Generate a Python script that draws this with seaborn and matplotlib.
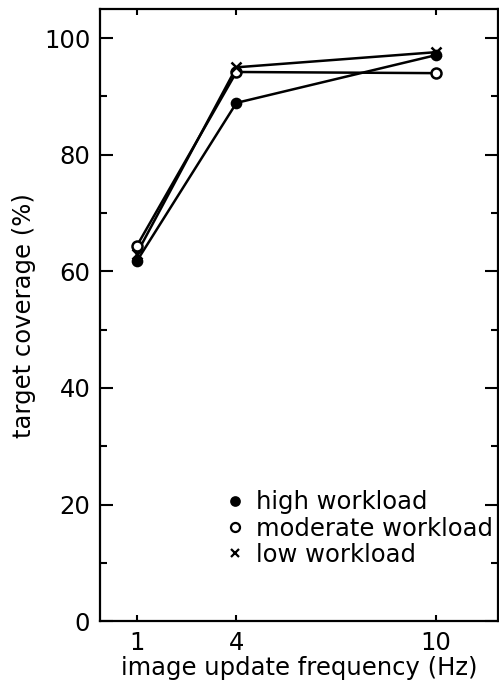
import pandas as pd
import seaborn as sns
import matplotlib
matplotlib.use("Agg")
import matplotlib.pyplot as plt
from matplotlib.lines import Line2D
from matplotlib.ticker import MultipleLocator

# --- data ---
freq = [1, 4, 10]
high = [61.7, 88.9, 97.1]
moderate = [64.3, 94.2, 94.0]
low = [63.0, 95.0, 97.6]
labels = ["high workload", "moderate workload", "low workload"]

df = pd.DataFrame({
    "freq": freq * 3,
    "coverage": high + moderate + low,
    "workload": [labels[0]] * 3 + [labels[1]] * 3 + [labels[2]] * 3,
})

sns.set_style("ticks")
plt.rcParams["font.family"] = ["DejaVu Sans"]
plt.rcParams["font.size"] = 17.5
plt.rcParams["text.color"] = "black"
plt.rcParams["axes.labelcolor"] = "black"
plt.rcParams["xtick.color"] = "black"
plt.rcParams["ytick.color"] = "black"

fig = plt.figure(figsize=(4.99, 6.94), dpi=100)
ax = fig.add_axes([0.2004, 0.105, 0.797, 0.882])

black = {k: "black" for k in labels}
sns.lineplot(data=df, x="freq", y="coverage", hue="workload", palette=black,
             ax=ax, legend=False, linewidth=1.8, marker=None)

marker_style = {
    labels[0]: dict(marker="o", markersize=7.2, markerfacecolor="black",
                    markeredgecolor="black", markeredgewidth=1.2),
    labels[1]: dict(marker="o", markersize=7.2, markerfacecolor="white",
                    markeredgecolor="black", markeredgewidth=1.8),
    labels[2]: dict(marker="x", markersize=6.5, markeredgecolor="black",
                    markeredgewidth=1.8),
}
for lab in labels:
    sub = df[df["workload"] == lab]
    ax.plot(sub["freq"], sub["coverage"], linestyle="none", zorder=3,
            **marker_style[lab])

ax.set_xlim(-0.1, 11.85)
ax.set_ylim(0, 105)
ax.set_xticks(freq)
ax.set_xticklabels([str(f) for f in freq])
ax.yaxis.set_major_locator(MultipleLocator(20))
ax.yaxis.set_minor_locator(MultipleLocator(10))

ax.tick_params(axis="y", which="major", direction="in", length=9.5, width=1.5,
               left=True, right=True, pad=7, labelsize=17.5)
ax.tick_params(axis="y", which="minor", direction="in", length=5, width=1.5,
               left=True, right=True)
ax.tick_params(axis="x", which="major", direction="in", length=4.5, width=1.5,
               top=True, bottom=True, pad=7, labelsize=17.5)

for s in ax.spines.values():
    s.set_linewidth(1.6)
    s.set_color("black")

ax.set_xlabel("image update frequency (Hz)", fontsize=17.5, labelpad=1)
ax.set_ylabel("target coverage (%)", fontsize=17.5, labelpad=6)

legend_style = {
    labels[0]: dict(marker="o", markersize=6.5, markerfacecolor="black",
                    markeredgecolor="black", markeredgewidth=1.2),
    labels[1]: dict(marker="o", markersize=6.5, markerfacecolor="white",
                    markeredgecolor="black", markeredgewidth=1.6),
    labels[2]: dict(marker="x", markersize=6, markeredgecolor="black",
                    markeredgewidth=1.6),
}
handles = [Line2D([], [], linestyle="none", color="black", **legend_style[lab])
           for lab in labels]
ax.legend(handles, labels, loc="upper left", bbox_to_anchor=(0.32, 0.214),
          frameon=False, handlelength=0.6, handletextpad=0.6,
          labelspacing=0.1, borderpad=0, borderaxespad=0, fontsize=17.5,
          labelcolor="black")

fig.savefig("out.png", dpi=100)
